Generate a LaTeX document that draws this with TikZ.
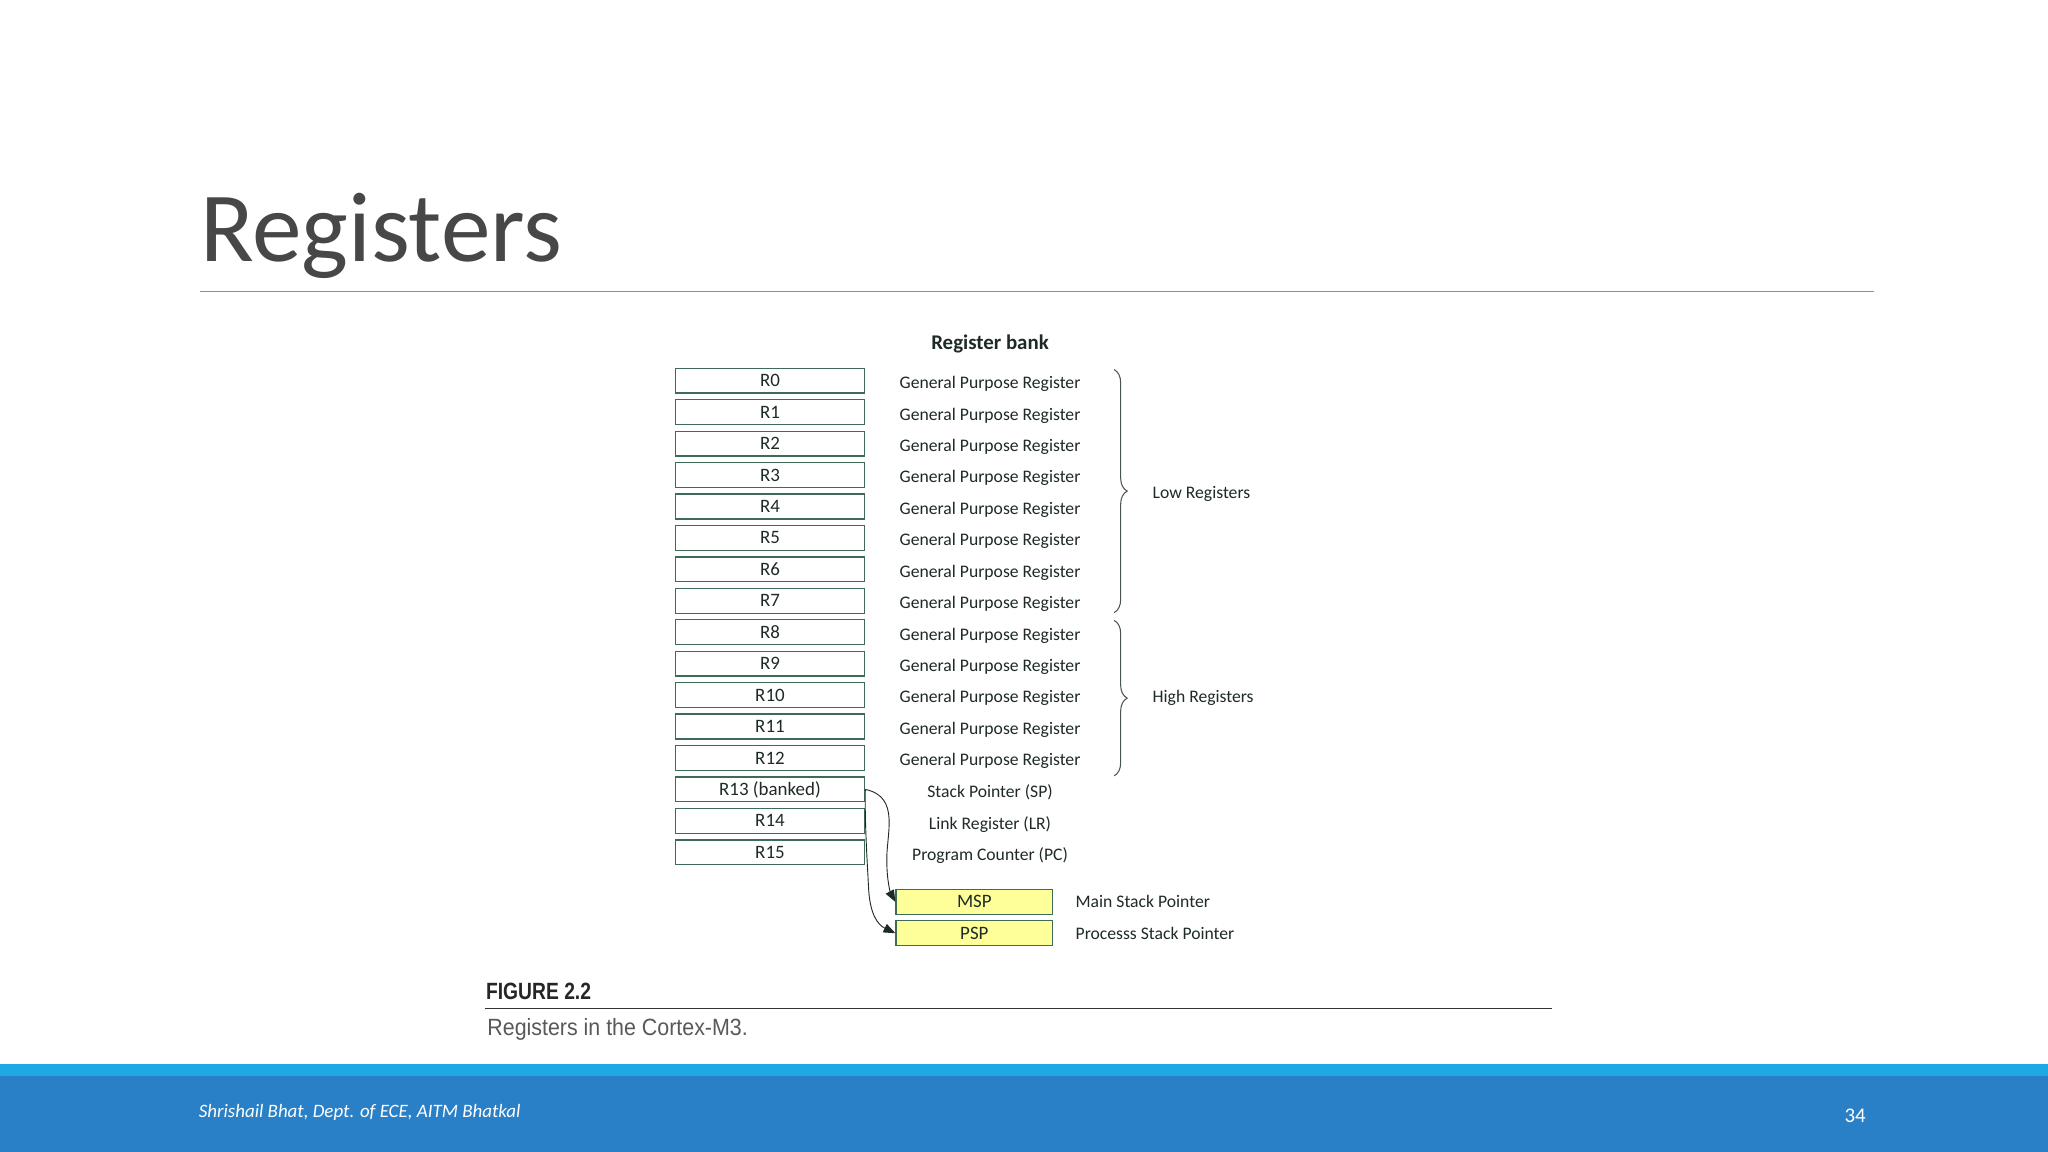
\documentclass[tikz,border=0pt]{standalone}
\usepackage{fontspec}
\setmainfont{Carlito}
\newfontfamily\arialn{Liberation Sans}
\usetikzlibrary{arrows.meta,decorations.pathreplacing}
\definecolor{boxline}{HTML}{3D6B55}
\definecolor{txt}{HTML}{1E2B24}
\definecolor{ylw}{HTML}{FFFF99}
\definecolor{band}{HTML}{1CA9E4}
\definecolor{foot}{HTML}{2A80C6}
\begin{document}
\begin{tikzpicture}[x=1pt,y=-1pt,
 reg/.style={draw=boxline,line width=1pt,minimum width=145pt,minimum height=19pt,inner sep=0pt,font=\fontsize{14.5}{14.5}\selectfont,text=txt},
 lab/.style={font=\fontsize{13.5}{13.5}\selectfont,text=txt},
 sp/.style={reg,fill=ylw,minimum width=120pt},
 br/.style={decorate,decoration={brace,amplitude=10pt},draw=txt!80,line width=0.8pt},
 arr/.style={draw=txt,line width=0.7pt,-{Triangle[length=9pt,width=7pt]}}]
\useasboundingbox (0,0) rectangle (1568,882);
\fill[white] (0,0) rectangle (1568,882);
\node[anchor=base west,font=\fontsize{76}{76}\selectfont,text=black!72,inner sep=0pt] (title) at (153,200) {Registers};
\draw[black!45,line width=1pt] (153,223) -- (1435,223);
\node[font=\bfseries\fontsize{16}{16}\selectfont,text=txt] (bank) at (758,263) {Register bank};
\foreach \i/\n/\l in {0/R0/General Purpose Register,1/R1/General Purpose Register,2/R2/General Purpose Register,3/R3/General Purpose Register,4/R4/General Purpose Register,5/R5/General Purpose Register,6/R6/General Purpose Register,7/R7/General Purpose Register,8/R8/General Purpose Register,9/R9/General Purpose Register,10/R10/General Purpose Register,11/R11/General Purpose Register,12/R12/General Purpose Register,13/R13 (banked)/Stack Pointer (SP),14/R14/Link Register (LR),15/R15/Program Counter (PC)}{
  \node[reg] (r\i) at (589.5,{291.5+24.07*\i}) {\n};
  \node[lab] (l\i) at (758,{294+24.07*\i}) {\l};
}
\draw[br] (853,283) -- (853,469);
\node[lab,anchor=west] (low) at (879,378) {Low Registers};
\draw[br] (853,475) -- (853,594);
\node[lab,anchor=west] (high) at (879,534) {High Registers};
\node[sp] (msp) at (746,690.5) {MSP};
\node[sp] (psp) at (746,714.5) {PSP};
\node[lab,anchor=west] (mspl) at (820,690.5) {Main Stack Pointer};
\node[lab,anchor=west] (pspl) at (820,714.5) {Processs Stack Pointer};
\draw[arr] (r13.east) .. controls (690,610) and (678,640) .. (679,660) .. controls (679,675) and (682,684) .. (msp.west);
\draw[arr] (r13.east) .. controls (662,630) and (664,660) .. (665,680) .. controls (666,700) and (672,708) .. (psp.west);
\node[anchor=base west,font=\arialn\bfseries\fontsize{18}{18}\selectfont,xscale=0.82,text=black!85,inner sep=0pt] (fig) at (372,765) {FIGURE 2.2};
\draw[black!80,line width=1.2pt] (371,772) -- (1188,772);
\node[anchor=base west,font=\arialn\fontsize{18}{18}\selectfont,xscale=0.91,text=black!65,inner sep=0pt] (cap) at (373,793) {Registers in the Cortex-M3.};
\fill[band] (0,815) rectangle (1568,824);
\fill[foot] (0,824) rectangle (1568,882);
\node[anchor=west,font=\itshape\fontsize{14.5}{14.5}\selectfont,text=white,inner sep=0pt] (auth) at (152,852) {Shrishail Bhat, Dept. of ECE, AITM Bhatkal};
\node[anchor=west,font=\fontsize{16}{16}\selectfont,text=white,inner sep=0pt] (pg) at (1412,854) {34};
\end{tikzpicture}
\end{document}
